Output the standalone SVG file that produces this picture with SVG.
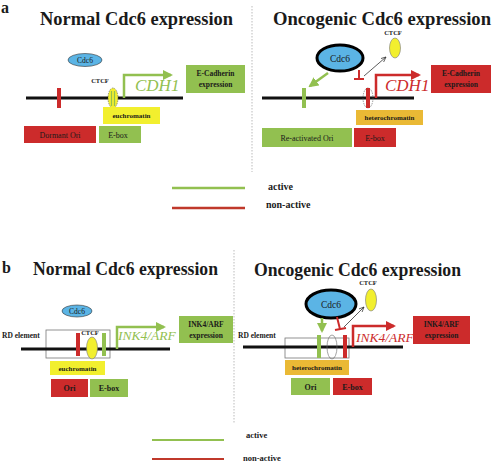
<svg xmlns="http://www.w3.org/2000/svg" width="492" height="462" viewBox="0 0 492 462">
<defs>
<style>
text{font-family:"Liberation Serif","Times New Roman",serif;fill:#1a1a1a}
.title{font-size:18px;font-weight:bold}
.lbl{font-size:7px;font-weight:bold}
.box{font-size:8px}
.gene{font-size:17px;font-style:italic}
.leg{font-size:10px;font-weight:bold}
.chrom{stroke:#111;stroke-width:3}
.green{fill:#92c050}
.red{fill:#cc2b2b}
.euc{fill:#f2ef2e}
.het{fill:#eab935}
.cdc6{fill:#5bb4e5}
.div{stroke:#bbb;stroke-width:1;stroke-dasharray:1.5 1.5}
.garr{stroke:#92c050;stroke-width:2.5;fill:none}
.rarr{stroke:#cc2b2b;stroke-width:2.5;fill:none}
</style>
<marker id="ag" viewBox="0 0 10 10" refX="8" refY="5" markerWidth="4" markerHeight="4" orient="auto"><path d="M0,0 L10,5 L0,10 z" fill="#92c050"/></marker>
<marker id="ar" viewBox="0 0 10 10" refX="8" refY="5" markerWidth="4" markerHeight="4" orient="auto"><path d="M0,0 L10,5 L0,10 z" fill="#cc2b2b"/></marker>
<marker id="ak" viewBox="0 0 10 10" refX="9" refY="5" markerWidth="7" markerHeight="7" orient="auto"><path d="M0,1 L9,5 L0,9" fill="none" stroke="#333" stroke-width="1.3"/></marker>
</defs>
<rect width="492" height="462" fill="#fff"/>

<!-- Panel a -->
<text x="1" y="13" style="font-size:16px;font-weight:bold">a</text>
<text class="title" x="40" y="25" textLength="193" lengthAdjust="spacingAndGlyphs">Normal Cdc6 expression</text>
<text class="title" x="273" y="25" textLength="218" lengthAdjust="spacingAndGlyphs">Oncogenic Cdc6 expression</text>
<line class="div" x1="252" y1="6" x2="252" y2="172"/>

<g id="a-normal">
  <line class="chrom" x1="26" y1="98" x2="183" y2="98"/>
  <rect class="red" x="57" y="88" width="4" height="20"/>
  <ellipse cx="113" cy="98" rx="5" ry="10" fill="#f2ef2e" stroke="#555" stroke-width="0.6" stroke-dasharray="1.5 1"/>
  <line x1="111.5" y1="91" x2="111.5" y2="106" stroke="#92c050" stroke-width="1.2"/>
  <line x1="114.5" y1="91" x2="114.5" y2="106" stroke="#92c050" stroke-width="1.2"/>
  <text class="lbl" x="100" y="83" text-anchor="middle" style="font-size:6.5px">CTCF</text>
  <g id="a-normal-cdc6"><ellipse class="cdc6" cx="85" cy="60" rx="17" ry="6.5" stroke="#333" stroke-width="0.6"/><text x="85" y="63" text-anchor="middle" style="font-size:7.5px">Cdc6</text></g>
  <text class="gene" x="135" y="91" style="fill:#92c050">CDH1</text>
  <g id="a-normal-ecad"><rect class="green" x="186" y="65" width="59" height="28"/><text class="lbl" x="215.5" y="76" text-anchor="middle" style="font-size:7.5px">E-Cadherin</text><text class="lbl" x="215.5" y="87" text-anchor="middle" style="font-size:7.5px">expression</text></g>
  <g id="a-normal-euc"><rect class="euc" x="103" y="107" width="57" height="17"/><text class="lbl" x="131.5" y="118" text-anchor="middle">euchromatin</text></g>
  <g id="a-normal-ori"><rect class="red" x="24" y="126" width="72" height="17"/><text class="box" x="60" y="137.5" text-anchor="middle">Dormant Ori</text></g>
  <g id="a-normal-ebox"><rect class="green" x="99" y="126" width="42" height="17"/><text class="box" x="118" y="137.5" text-anchor="middle">E-box</text></g>
</g>

<g id="a-onco">
  <line class="chrom" x1="262" y1="98" x2="414" y2="98"/>
  <rect class="green" x="302" y="88" width="4" height="20"/>
  <ellipse cx="368" cy="98" rx="5" ry="10" fill="none" stroke="#555" stroke-width="0.6" stroke-dasharray="1.5 1"/>
  <rect class="red" x="366" y="88" width="4" height="20"/>
  <text class="lbl" x="393" y="35" text-anchor="middle" style="font-size:6.5px">CTCF</text>
  <ellipse id="a-onco-ctcf" cx="395" cy="48" rx="5.5" ry="10" fill="#f2ef2e" stroke="#777" stroke-width="0.6"/>
  <g id="a-onco-cdc6"><ellipse class="cdc6" cx="340" cy="58" rx="23" ry="13" stroke="#000" stroke-width="3"/><text x="340" y="62" text-anchor="middle" style="font-size:9.5px">Cdc6</text></g>
  <text class="gene" x="385" y="91" style="fill:#cc2b2b">CDH1</text>
  <g id="a-onco-ecad"><rect class="red" x="431" y="65" width="60" height="28"/><text class="lbl" x="461" y="76" text-anchor="middle" style="font-size:7.5px">E-Cadherin</text><text class="lbl" x="461" y="87" text-anchor="middle" style="font-size:7.5px">expression</text></g>
  <g id="a-onco-het"><rect class="het" x="356" y="110" width="67" height="15"/><text class="lbl" x="389.5" y="120" text-anchor="middle">heterochromatin</text></g>
  <g id="a-onco-ori"><rect class="green" x="262" y="128" width="90" height="19"/><text class="box" x="307" y="140.5" text-anchor="middle">Re-activated Ori</text></g>
  <g id="a-onco-ebox"><rect class="red" x="354" y="128" width="42" height="19"/><text class="box" x="375" y="140.5" text-anchor="middle">E-box</text></g>
</g>

<!-- Panel b -->
<text x="2" y="273" style="font-size:16px;font-weight:bold">b</text>
<text class="title" x="33" y="275" textLength="185" lengthAdjust="spacingAndGlyphs">Normal Cdc6 expression</text>
<text class="title" x="254" y="276" textLength="207" lengthAdjust="spacingAndGlyphs">Oncogenic Cdc6 expression</text>
<line class="div" x1="234" y1="250" x2="234" y2="423"/>

<g id="b-normal">
  <text class="lbl" x="2" y="338" style="font-size:7.5px">RD element</text>
  <rect x="46" y="330" width="64" height="28" fill="#fff" stroke="#777" stroke-width="0.8"/>
  <line class="chrom" x1="21" y1="349" x2="170" y2="349"/>
  <rect class="red" x="76" y="333" width="4" height="23"/>
  <ellipse cx="92" cy="348" rx="5.5" ry="11" fill="#f2ef2e" stroke="#777" stroke-width="0.6"/>
  <rect class="green" x="102" y="333" width="4" height="23"/>
  <text class="lbl" x="90" y="335" text-anchor="middle" style="font-size:6.5px">CTCF</text>
  <g id="b-normal-cdc6"><ellipse class="cdc6" cx="77" cy="311" rx="15" ry="6" stroke="#333" stroke-width="0.6"/><text x="77" y="314" text-anchor="middle" style="font-size:7.5px">Cdc6</text></g>
  <text class="gene" x="118" y="340" style="fill:#92c050;font-size:13.5px">INK4/ARF</text>
  <g id="b-normal-ink"><rect class="green" x="179" y="316" width="54" height="27"/><text class="lbl" x="206" y="327" text-anchor="middle" style="font-size:7.5px">INK4/ARF</text><text class="lbl" x="206" y="338" text-anchor="middle" style="font-size:7.5px">expression</text></g>
  <g id="b-normal-euc"><rect class="euc" x="50" y="361" width="55" height="14"/><text class="lbl" x="77.5" y="370.5" text-anchor="middle">euchromatin</text></g>
  <g id="b-normal-ori"><rect class="red" x="51" y="379" width="37" height="18"/><text class="box" x="69.5" y="391" text-anchor="middle" style="font-weight:bold">Ori</text></g>
  <g id="b-normal-ebox"><rect class="green" x="90" y="379" width="38" height="18"/><text class="box" x="109" y="391" text-anchor="middle" style="font-weight:bold">E-box</text></g>
</g>

<g id="b-onco">
  <text class="lbl" x="238" y="338" style="font-size:7.5px">RD element</text>
  <rect x="285" y="338" width="64" height="20" fill="#fff" stroke="#777" stroke-width="0.8"/>
  <line class="chrom" x1="243" y1="347" x2="403" y2="347"/>
  <rect class="green" x="317" y="335" width="4" height="23"/>
  <ellipse cx="332" cy="347" rx="5" ry="12" fill="none" stroke="#666" stroke-width="0.6"/>
  <rect class="red" x="343" y="335" width="4" height="23"/>
  <text class="lbl" x="368" y="285" text-anchor="middle" style="font-size:6.5px">CTCF</text>
  <ellipse id="b-onco-ctcf" cx="371" cy="300" rx="5.5" ry="11" fill="#f2ef2e" stroke="#777" stroke-width="0.6"/>
  <g id="b-onco-cdc6"><ellipse class="cdc6" cx="331" cy="304" rx="25" ry="14" stroke="#000" stroke-width="3"/><text x="331" y="308" text-anchor="middle" style="font-size:9.5px">Cdc6</text></g>
  <text class="gene" x="356" y="342" style="fill:#cc2b2b;font-size:13.5px">INK4/ARF</text>
  <g id="b-onco-ink"><rect class="red" x="413" y="316" width="57" height="28"/><text class="lbl" x="441.5" y="327" text-anchor="middle" style="font-size:7.5px">INK4/ARF</text><text class="lbl" x="441.5" y="338" text-anchor="middle" style="font-size:7.5px">expression</text></g>
  <g id="b-onco-het"><rect class="het" x="285" y="360" width="64" height="15"/><text class="lbl" x="317" y="370" text-anchor="middle">heterochromatin</text></g>
  <g id="b-onco-ori"><rect class="green" x="291" y="378" width="39" height="17"/><text class="box" x="310.5" y="389.5" text-anchor="middle" style="font-weight:bold">Ori</text></g>
  <g id="b-onco-ebox"><rect class="red" x="333" y="378" width="39" height="17"/><text class="box" x="352.5" y="389.5" text-anchor="middle" style="font-weight:bold">E-box</text></g>
</g>

<g id="connectors">
  <polyline class="garr" points="124,98 124,75 171,75" marker-end="url(#ag)"/>
  <line class="garr" x1="328" y1="73" x2="310" y2="86" marker-end="url(#ag)"/>
  <line x1="359" y1="70" x2="359" y2="79" stroke="#cc2b2b" stroke-width="2"/>
  <line x1="354" y1="79" x2="364" y2="79" stroke="#cc2b2b" stroke-width="2"/>
  <line x1="364" y1="76" x2="386" y2="57" stroke="#333" stroke-width="0.8" marker-end="url(#ak)"/>
  <polyline class="rarr" points="376,98 376,75 419,75" marker-end="url(#ar)"/>
  <polyline class="garr" points="117,349 117,327 164,327" marker-end="url(#ag)"/>
  <line class="garr" x1="322" y1="318" x2="322" y2="331" marker-end="url(#ag)"/>
  <line x1="337" y1="317" x2="340" y2="329" stroke="#cc2b2b" stroke-width="2"/>
  <line x1="335" y1="330" x2="346" y2="328" stroke="#cc2b2b" stroke-width="2"/>
  <line x1="344" y1="327" x2="364" y2="307" stroke="#333" stroke-width="0.8" marker-end="url(#ak)"/>
  <polyline class="rarr" points="353,347 353,326 394,326" marker-end="url(#ar)"/>
</g>

<g id="legend-a">
  <line x1="172" y1="188" x2="245" y2="188" stroke="#92c050" stroke-width="2.5"/>
  <text class="leg" x="268" y="190">active</text>
  <line x1="172" y1="208" x2="245" y2="208" stroke="#c0392b" stroke-width="2.5"/>
  <text class="leg" x="266" y="208">non-active</text>
</g>
<g id="legend-b">
  <line x1="152" y1="440" x2="224" y2="440" stroke="#92c050" stroke-width="2"/>
  <text class="leg" x="246" y="438" style="font-size:8.5px">active</text>
  <line x1="152" y1="459" x2="224" y2="459" stroke="#c0392b" stroke-width="2"/>
  <text class="leg" x="243" y="461" style="font-size:8.5px">non-active</text>
</g>
</svg>
